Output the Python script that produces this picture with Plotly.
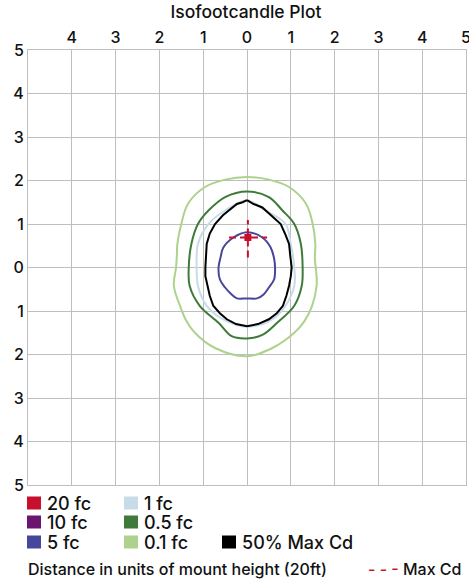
import plotly.graph_objects as go

# ---------------- data (units of mount height) ----------------
tick_vals = [-5, -4, -3, -2, -1, 0, 1, 2, 3, 4, 5]
tick_text = ["5", "4", "3", "2", "1", "0", "1", "2", "3", "4", "5"]

fc01_x = [0, 0.5, 0.96, 1.35, 1.5, 1.56, 1.55, 1.58, 1.59, 1.48, 1.3, 1.08, 0.58, 0,
          -0.73, -1.19, -1.4, -1.5, -1.67, -1.62, -1.6, -1.59, -1.5, -1.35, -0.96, -0.5, 0]
fc01_y = [2.08, 2.02, 1.85, 1.46, 1.0, 0.54, 0.2, -0.1, -0.42, -0.9, -1.25, -1.5, -1.85, -2.04,
          -1.85, -1.5, -1.2, -0.96, -0.42, 0.0, 0.3, 0.54, 1.0, 1.46, 1.85, 2.02, 2.08]

fc05_x = [0, 0.5, 0.81, 1.08, 1.23, 1.27, 1.25, 1.08, 0.69, 0.35, 0, -0.35, -0.65, -1.08,
          -1.31, -1.33, -1.27, -1.12, -0.88, -0.5, 0]
fc05_y = [1.75, 1.62, 1.31, 1.0, 0.54, 0.0, -0.42, -0.88, -1.27, -1.55, -1.63, -1.58, -1.27, -0.88,
          -0.42, 0.0, 0.54, 1.0, 1.31, 1.62, 1.75]

fc1_x = [0, 0.42, 0.88, 1.0, 1.08, 1.08, 0.88, 0.58, 0, -0.54, -0.92, -1.12, -1.15, -1.12, -0.88, -0.5, 0]
fc1_y = [1.54, 1.31, 1.0, 0.54, 0.0, -0.42, -0.88, -1.19, -1.36, -1.19, -0.88, -0.42, 0.0, 0.54, 1.0, 1.31, 1.54]

cd50_x = [0, 0.08, 0.15, 0.35, 0.55, 0.77, 0.88, 0.96, 0.99, 1.02, 1.0, 0.96, 0.9, 0.82, 0.68,
          0.5, 0.25, 0, -0.25, -0.46, -0.62, -0.77, -0.85, -0.9, -0.95, -0.95, -0.94, -0.92,
          -0.85, -0.73, -0.55, -0.35, -0.23, -0.1, 0]
cd50_y = [1.55, 1.5, 1.46, 1.38, 1.2, 1.0, 0.75, 0.54, 0.25, 0.0, -0.2, -0.42, -0.65, -0.88, -1.05,
          -1.19, -1.3, -1.35, -1.3, -1.19, -1.05, -0.88, -0.65, -0.42, -0.2, 0.0, 0.25, 0.54,
          0.78, 1.0, 1.2, 1.36, 1.46, 1.5, 1.55]

fc5_x = [0, 0.35, 0.54, 0.62, 0.64, 0.62, 0.5, 0.38, 0.23, 0, -0.23, -0.35, -0.5, -0.62, -0.65,
         -0.6, -0.54, -0.31, 0]
fc5_y = [0.81, 0.69, 0.46, 0.2, 0.0, -0.27, -0.46, -0.62, -0.71, -0.71, -0.71, -0.62, -0.46, -0.27,
         0.0, 0.25, 0.46, 0.69, 0.81]

maxcd_x = 0.02
maxcd_y = 0.69
maxcd_h = [-0.41, 0.46]
maxcd_v = [0.23, 1.09]

legend_labels = ["20 fc", "10 fc", "5 fc", "1 fc", "0.5 fc", "0.1 fc", "50% Max Cd"]
legend_colors = ["#C8102E", "#6B1570", "#46469A", "#C7DBE8", "#3E7B3A", "#AED18E", "#000000"]

# ---------------- figure ----------------
W, H = 469, 583
L, R, T, B = 28, 3, 50, 98
FONT = "Inter, Liberation Sans, Arial, sans-serif"
WEIGHT = 500
TXT = "#111111"

fig = go.Figure()

def contour(xs, ys, color, shape="spline", width=2):
    fig.add_trace(go.Scatter(x=xs, y=ys, mode="lines",
                             line=dict(color=color, width=width, shape=shape),
                             hoverinfo="skip", showlegend=False))

contour(fc01_x, fc01_y, legend_colors[5])
contour(fc05_x, fc05_y, legend_colors[4])
contour(fc1_x, fc1_y, legend_colors[3])
contour(cd50_x, cd50_y, legend_colors[6], shape="linear")
contour(fc5_x, fc5_y, legend_colors[2])

# Max Cd crosshair
fig.add_trace(go.Scatter(x=maxcd_h, y=[maxcd_y, maxcd_y], mode="lines",
                         line=dict(color="#C8102E", width=2, dash="7px,4px"),
                         hoverinfo="skip", showlegend=False))
fig.add_trace(go.Scatter(x=[maxcd_x, maxcd_x], y=maxcd_v, mode="lines",
                         line=dict(color="#C8102E", width=2, dash="7px,4px"),
                         hoverinfo="skip", showlegend=False))
fig.add_trace(go.Scatter(x=[maxcd_x], y=[maxcd_y], mode="markers",
                         marker=dict(symbol="square", size=7, color="#C8102E"),
                         hoverinfo="skip", showlegend=False))

axis_common = dict(range=[-5, 5], showgrid=True, gridcolor="#BEBEBE", gridwidth=1,
                   zeroline=False, showline=True, linecolor="#BEBEBE", linewidth=1,
                   mirror=True, ticks="", fixedrange=True, ticklabeloverflow="allow",
                   automargin=False,
                   tickfont=dict(family=FONT, size=16, color=TXT, weight=WEIGHT))
fig.update_xaxes(**axis_common, side="top", tickvals=tick_vals[1:], ticktext=tick_text[1:])
fig.update_yaxes(**axis_common, tickvals=tick_vals, ticktext=tick_text)

def px2paper(px, py):
    return (px - L) / (W - L - R), (H - B - py) / (H - T - B)

shapes = []
annotations = []
sq_cols = [27, 124, 222]
row_y = [503, 522, 542]
slots = [(0, 0), (0, 1), (0, 2), (1, 0), (1, 1), (1, 2), (2, 2)]
for lab, col, (c, r) in zip(legend_labels, legend_colors, slots):
    x0, y0 = px2paper(sq_cols[c], row_y[r] - 6.5)
    x1, y1 = px2paper(sq_cols[c] + 14, row_y[r] + 6.5)
    shapes.append(dict(type="rect", xref="paper", yref="paper", x0=x0, x1=x1, y0=y1, y1=y0,
                       fillcolor=col, line=dict(width=0)))
    tx, ty = px2paper(sq_cols[c] + 18, row_y[r])
    annotations.append(dict(xref="paper", yref="paper", x=tx, y=ty, text=lab, showarrow=False,
                            xanchor="left", yanchor="middle",
                            font=dict(family=FONT, size=18, color=TXT, weight=WEIGHT)))

tx, ty = px2paper(26, 569)
annotations.append(dict(xref="paper", yref="paper", x=tx, y=ty,
                        text="Distance in units of mount height (20ft)", showarrow=False,
                        xanchor="left", yanchor="middle",
                        font=dict(family=FONT, size=16, color=TXT, weight=WEIGHT)))
tx, ty = px2paper(366, 569)
annotations.append(dict(xref="paper", yref="paper", x=tx, y=ty,
                        text="<span style='color:#C8102E'>- - -</span> Max Cd", showarrow=False,
                        xanchor="left", yanchor="middle",
                        font=dict(family=FONT, size=16, color=TXT, weight=WEIGHT)))

fig.update_layout(
    width=W, height=H,
    margin=dict(l=L, r=R, t=T, b=B, autoexpand=False),
    paper_bgcolor="white", plot_bgcolor="white",
    title=dict(text="Isofootcandle Plot", x=(246) / W, xanchor="center",
               y=1 - 12 / H, yanchor="middle", yref="container",
               font=dict(family=FONT, size=17.5, color=TXT, weight=WEIGHT)),
    shapes=shapes, annotations=annotations,
    showlegend=False,
)

fig.write_html("out.html", config={"displayModeBar": False},
               post_script="document.body.style.margin='0';")
